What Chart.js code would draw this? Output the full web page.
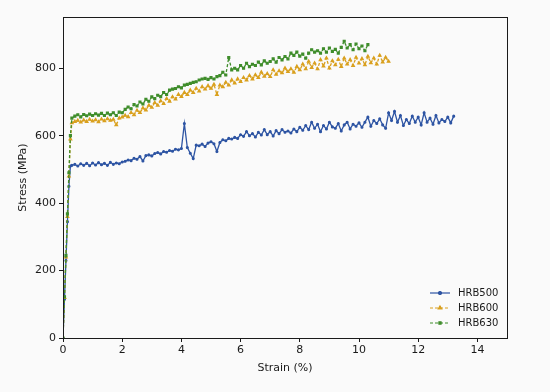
<!DOCTYPE html>
<html>
<head>
<meta charset="utf-8">
<script src="https://cdn.jsdelivr.net/npm/chart.js@4"></script>
<style>
  html, body { margin: 0; padding: 0; background: #fafafa; }
  #wrap { width: 550px; height: 392px; }
</style>
</head>
<body>
<div id="wrap"><canvas id="chart0" width="550" height="392"></canvas></div>
<script>
// strain (%) sample points shared by the three bars
const strain = [0, 0.05, 0.1, 0.15, 0.2, 0.25,
    0.3, 0.4, 0.5, 0.6, 0.7, 0.8, 0.9, 1.0, 1.1, 1.2, 1.3, 1.4, 1.5, 1.6, 1.7, 1.8, 1.9,
    2.0, 2.1, 2.2, 2.3, 2.4, 2.5, 2.6, 2.7, 2.8, 2.9, 3.0, 3.1, 3.2, 3.3, 3.4, 3.5, 3.6, 3.7, 3.8, 3.9,
    4.0, 4.1, 4.2, 4.3, 4.4, 4.5, 4.6, 4.7, 4.8, 4.9, 5.0, 5.1, 5.2, 5.3, 5.4, 5.5, 5.6, 5.7, 5.8, 5.9,
    6.0, 6.1, 6.2, 6.3, 6.4, 6.5, 6.6, 6.7, 6.8, 6.9, 7.0, 7.1, 7.2, 7.3, 7.4, 7.5, 7.6, 7.7, 7.8, 7.9,
    8.0, 8.1, 8.2, 8.3, 8.4, 8.5, 8.6, 8.7, 8.8, 8.9, 9.0, 9.1, 9.2, 9.3, 9.4, 9.5, 9.6, 9.7, 9.8, 9.9,
    10.0, 10.1, 10.2, 10.3, 10.4, 10.5, 10.6, 10.7, 10.8, 10.9, 11.0, 11.1, 11.2, 11.3, 11.4, 11.5, 11.6, 11.7, 11.8, 11.9,
    12.0, 12.1, 12.2, 12.3, 12.4, 12.5, 12.6, 12.7, 12.8, 12.9, 13.0, 13.1, 13.2];

const hrb500 = [0, 115, 230, 345, 450, 510,
    512, 515, 510, 517, 512, 518, 511, 519, 513, 520, 514, 518, 512, 521, 515, 519, 517,
    522, 524, 528, 526, 533, 530, 538, 525, 541, 543, 540, 547, 550, 546, 553, 551, 556, 554, 560, 558,
    562, 636, 565, 548, 532, 572, 570, 575, 568, 578, 582, 576, 553, 580, 588, 585, 592, 590, 595, 592,
    603, 598, 612, 600, 606, 596, 610, 602, 618, 603, 612, 599, 615, 606, 618, 610, 614, 608, 620, 612,
    625, 616, 630, 618, 640, 622, 634, 612, 630, 620, 640, 626, 622, 636, 614, 632, 640, 620, 634, 628,
    638, 625, 640, 655, 628, 645, 636, 650, 632, 622, 668, 645, 672, 640, 660, 630, 648, 636, 658, 640,
    655, 632, 668, 640, 652, 634, 660, 638, 648, 642, 655, 638, 658];

const hrb600 = [0, 120, 240, 360, 480, 590,
    638, 642, 645, 640, 646, 642, 648, 643, 647, 641, 649, 644, 650, 645, 648, 632, 652,
    655, 660, 656, 668, 662, 675, 668, 682, 676, 690, 684, 698, 690, 703, 695, 710, 702, 715, 708, 722,
    716, 728, 722, 735, 728, 740, 732, 745, 738, 748, 740, 752, 722, 750, 745, 758, 750, 765, 756, 768,
    760, 772, 765, 778, 768, 780, 772, 788, 776, 784, 775, 795, 782, 792, 786, 800, 790, 798, 788, 805,
    795, 812, 798, 820, 802, 815, 798, 825, 806, 830, 800, 822, 810, 826, 805, 830, 812, 825, 808, 832,
    815, 828, 810, 835, 816, 830, 812, 838, 818, 832, 820];

const hrb630 = [0, 122, 245, 368, 490, 600,
    652, 658, 662, 656, 663, 659, 664, 660, 665, 661, 666, 660, 667, 662, 668, 660, 670,
    668, 678, 685, 680, 692, 688, 700, 694, 708, 702, 715, 710, 720, 716, 728, 722, 735, 738, 740, 745,
    742, 750, 752, 755, 758, 760, 765, 768, 770, 767, 772, 768, 775, 778, 788, 780, 832, 795, 800, 795,
    808, 800, 815, 805, 812, 808, 818, 810, 822, 815, 820, 828, 818, 832, 825, 835, 828, 845, 838, 848,
    836, 842, 830, 845, 855, 848, 852, 845, 858, 848, 860, 850, 856, 845, 862, 880, 860, 870, 855, 872,
    858, 866, 852, 870];

const seriesNames = ['HRB500', 'HRB600', 'HRB630'];
const seriesColors = ['#2d54a3', '#d9a01e', '#3f8d2b'];
const xTicks = [0, 2, 4, 6, 8, 10, 12, 14];
const yTicks = [0, 200, 400, 600, 800];

const FONT = 'DejaVu Sans';

function pairs(ys) {
    return ys.map((y, i) => ({ x: strain[i], y: y }));
}

const canvas0 = document.getElementById('chart0');
const ctx0 = canvas0.getContext('2d');

const frame = {
    id: 'frame',
    beforeDraw(chart) {
        const c = chart.ctx;
        c.save();
        c.fillStyle = '#fafafa';
        c.fillRect(0, 0, chart.width, chart.height);
        c.restore();
    },
    afterDatasetsDraw(chart) {
        const c = chart.ctx, a = chart.chartArea;
        c.save();
        c.strokeStyle = '#1a1a1a';
        c.lineWidth = 1;
        c.strokeRect(Math.round(a.left) + 0.5, Math.round(a.top) + 0.5,
            Math.round(a.right - a.left), Math.round(a.bottom - a.top));

        // legend, bottom right inside the axes
        const styles = ['circle', 'triangle', 'rect'];
        const dashes = [[], [3, 2], [3, 2]];
        c.font = '10px ' + FONT;
        c.textBaseline = 'middle';
        for (let i = 0; i < seriesNames.length; i++) {
            const y = 293 + i * 15;
            c.strokeStyle = seriesColors[i];
            c.lineWidth = 1.2;
            c.setLineDash(dashes[i]);
            c.beginPath();
            c.moveTo(430, y);
            c.lineTo(450, y);
            c.stroke();
            c.setLineDash([]);
            Chart.helpers.drawPoint(c, {
                pointStyle: styles[i], radius: i == 1 ? 2 : 1.5, borderWidth: 1,
            }, 440, y);
            c.fillStyle = seriesColors[i];
            c.fill();
            c.fillStyle = '#1a1a1a';
            c.fillText(seriesNames[i], 458, y + 0.5);
        }
        c.restore();
    }
};

const chart0 = new Chart(ctx0, {
    type: 'line',
    data: {
        datasets: [
            {
                label: seriesNames[0],
                data: pairs(hrb500),
                borderColor: seriesColors[0],
                backgroundColor: seriesColors[0],
                borderWidth: 1.3,
                pointStyle: 'circle',
                pointRadius: 0.9,
                order: 3,
            },
            {
                label: seriesNames[1],
                data: pairs(hrb600),
                borderColor: seriesColors[1],
                backgroundColor: seriesColors[1],
                borderWidth: 1.3,
                borderDash: [3, 2],
                pointStyle: 'triangle',
                pointRadius: 1.4,
                order: 2,
            },
            {
                label: seriesNames[2],
                data: pairs(hrb630),
                borderColor: seriesColors[2],
                backgroundColor: seriesColors[2],
                borderWidth: 1.3,
                borderDash: [3, 2],
                pointStyle: 'rect',
                pointRadius: 1.3,
                order: 1,
            },
        ],
    },
    options: {
        responsive: false,
        animation: false,
        layout: { padding: { left: 17, top: 17, right: 43, bottom: 17 } },
        plugins: {
            legend: { display: false },
            tooltip: { enabled: false },
        },
        elements: { point: { borderWidth: 0 }, line: { tension: 0 } },
        scales: {
            x: {
                type: 'linear',
                min: 0,
                max: 15,
                afterBuildTicks: (axis) => { axis.ticks = xTicks.map(v => ({ value: v })); },
                afterFit: (axis) => { axis.height = 37; },
                grid: { drawOnChartArea: false, tickLength: 4, color: '#1a1a1a' },
                border: { color: '#1a1a1a' },
                ticks: { color: '#1a1a1a', font: { family: FONT, size: 11 }, padding: 2, maxRotation: 0 },
                title: { display: true, text: 'Strain (%)', color: '#1a1a1a', font: { family: FONT, size: 11 }, padding: { top: 2, bottom: 0 } },
            },
            y: {
                type: 'linear',
                min: 0,
                max: 952,
                afterBuildTicks: (axis) => { axis.ticks = yTicks.map(v => ({ value: v })); },
                afterFit: (axis) => { axis.width = 46; },
                grid: { drawOnChartArea: false, tickLength: 4, color: '#1a1a1a' },
                border: { color: '#1a1a1a' },
                ticks: { color: '#1a1a1a', font: { family: FONT, size: 11 }, padding: 3 },
                title: { display: true, text: 'Stress (MPa)', color: '#1a1a1a', font: { family: FONT, size: 11 }, padding: { top: 0, bottom: 0 } },
            },
        },
    },
    plugins: [frame],
});
</script>
</body>
</html>
